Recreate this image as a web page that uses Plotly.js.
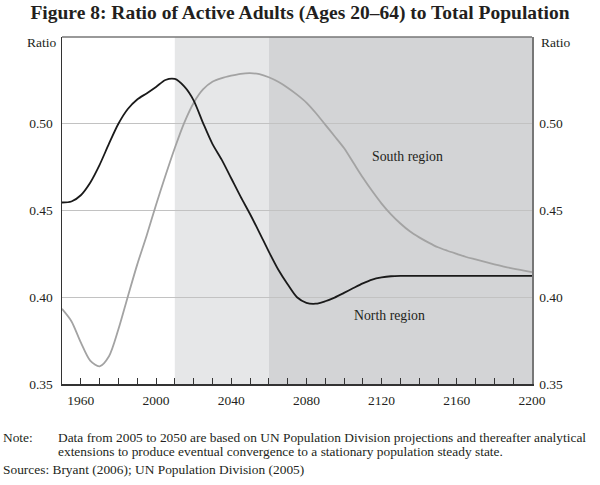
<!DOCTYPE html>
<html>
<head>
<meta charset="utf-8">
<script src="https://cdn.plot.ly/plotly-3.0.1.min.js"></script>
<style>html,body{margin:0;padding:0;background:#fff;}#chart{width:600px;height:485px;}</style>
</head>
<body>
<div id="chart"></div>
<script>
const northYears = [1950,1955,1960,1965,1970,1975,1980,1985,1990,1995,2000,2005,2010,2015,2020,2025,2030,2035,2040,2045,2050,2055,2060,2065,2070,2075,2080,2085,2090,2095,2100,2105,2110,2115,2120,2125,2130,2140,2150,2160,2170,2180,2190,2200];
const northRatio = [0.4546,0.4552,0.4588,0.4660,0.4763,0.4885,0.5000,0.5085,0.5140,0.5175,0.5212,0.5252,0.5258,0.5215,0.5135,0.5005,0.4884,0.4792,0.4686,0.4580,0.4480,0.4373,0.4263,0.4160,0.4075,0.4000,0.3968,0.3963,0.3977,0.3998,0.4025,0.4053,0.4080,0.4102,0.4114,0.4121,0.4123,0.4123,0.4123,0.4123,0.4123,0.4123,0.4123,0.4123];
const southYears = [1950,1955,1960,1965,1970,1975,1980,1985,1990,1995,2000,2005,2010,2015,2020,2025,2030,2035,2040,2045,2050,2055,2060,2065,2070,2075,2080,2085,2090,2095,2100,2105,2110,2115,2120,2125,2130,2135,2140,2145,2150,2155,2160,2165,2170,2175,2180,2185,2190,2195,2200];
const southRatio = [0.3933,0.3862,0.3740,0.3635,0.3602,0.3660,0.3815,0.4003,0.4188,0.4355,0.4532,0.4700,0.4860,0.5005,0.5120,0.5198,0.5242,0.5263,0.5277,0.5288,0.5292,0.5286,0.5268,0.5242,0.5208,0.5168,0.5122,0.5062,0.4995,0.4928,0.4860,0.4775,0.4690,0.4612,0.4540,0.4478,0.4425,0.4380,0.4345,0.4315,0.4288,0.4268,0.4250,0.4232,0.4218,0.4204,0.4190,0.4177,0.4165,0.4155,0.4145];
const yTicks = [0.35,0.40,0.45,0.50];
const yTickText = ['0.35','0.40','0.45','0.50'];
const xTicks = [1960,2000,2040,2080,2120,2160,2200];
const shadeLight = [2010,2060];
const shadeDark = [2060,2200];
const labels = {north:'North region', south:'South region'};

const serif = 'Liberation Serif, Times New Roman, serif';
const W = 600, H = 485, L = 62, R = 68, T = 37, B = 101;
const ph = H - T - B;
function py(pix){ return (H - B - pix) / ph; }
function pxx(pix){ return (pix - L) / (W - L - R); }

const traces = [
  {x: southYears, y: southRatio, type:'scatter', mode:'lines', line:{color:'#a3a3a3', width:1.8, shape:'spline', smoothing:0.8}, hoverinfo:'skip', showlegend:false},
  {x: northYears, y: northRatio, type:'scatter', mode:'lines', line:{color:'#1a1a1a', width:1.8, shape:'spline', smoothing:0.8}, hoverinfo:'skip', showlegend:false},
  {x: [1950,2200], y: [0.35,0.35], type:'scatter', mode:'lines', yaxis:'y2', line:{color:'rgba(0,0,0,0)'}, hoverinfo:'skip', showlegend:false}
];

const tickFont = {family:serif, size:13.5, color:'#231f20'};
const noteFont = {family:serif, size:13.4, color:'#231f20'};
const layout = {
  width: W, height: H,
  margin: {l:L, r:R, t:T, b:B},
  paper_bgcolor:'#fff', plot_bgcolor:'#fff',
  font: {family: serif, size: 13.5, color:'#231f20'},
  title: {text:'<b>Figure 8: Ratio of Active Adults (Ages 20–64) to Total Population</b>', font:{family:serif, size:19.5, color:'#231f20'}, x:0.5, xanchor:'center', y:1-12/H, yanchor:'middle'},
  xaxis: {range:[1950,2200], tickvals:xTicks, ticktext:xTicks.map(String), ticks:'inside', ticklen:6, tickcolor:'#333', tickwidth:1,
    minor:{dtick:10, tick0:1950, ticks:'inside', ticklen:6, tickcolor:'#333', tickwidth:1, showgrid:false},
    ticklabelstandoff:3, showgrid:false, zeroline:false, showline:true, linecolor:'#333', linewidth:1.5, mirror:false, fixedrange:true,
    tickfont:tickFont},
  yaxis: {range:[0.35,0.55], tickvals:yTicks, ticktext:yTickText, ticks:'', showgrid:true, gridcolor:'#c2c2c2', gridwidth:1,
    ticklabelstandoff:5, zeroline:false, showline:true, linecolor:'#333', linewidth:1.5, fixedrange:true, tickfont:tickFont},
  yaxis2: {range:[0.35,0.55], tickvals:yTicks, ticktext:yTickText, ticks:'', overlaying:'y', side:'right', showgrid:false,
    ticklabelstandoff:3, zeroline:false, showline:true, linecolor:'#777', linewidth:1.5, fixedrange:true, tickfont:tickFont},
  shapes: [
    {type:'rect', xref:'x', yref:'paper', x0:shadeLight[0], x1:shadeLight[1], y0:0, y1:1, fillcolor:'#e6e7e8', line:{width:0}, layer:'below'},
    {type:'rect', xref:'x', yref:'paper', x0:shadeDark[0], x1:shadeDark[1], y0:0, y1:1, fillcolor:'#d3d4d6', line:{width:0}, layer:'below'},
    {type:'line', xref:'paper', yref:'paper', x0:0, x1:1, y0:1, y1:1, line:{color:'#777', width:1.5}, layer:'above'}
  ],
  annotations: [
    {text:'Ratio', xref:'paper', yref:'paper', x:pxx(58), y:py(43), xanchor:'right', yanchor:'middle', showarrow:false, font:tickFont},
    {text:'Ratio', xref:'paper', yref:'paper', x:pxx(539), y:py(42), xanchor:'left', yanchor:'middle', showarrow:false, font:tickFont},
    {text:labels.south, xref:'x', yref:'y', x:2134, y:0.35+(384-157)*0.05/86.7, xanchor:'center', yanchor:'middle', showarrow:false, font:{family:serif, size:13.8}},
    {text:labels.north, xref:'x', yref:'y', x:2124, y:0.35+(384-316)*0.05/86.7, xanchor:'center', yanchor:'middle', showarrow:false, font:{family:serif, size:13.8}},
    {text:'Note:', xref:'paper', yref:'paper', x:pxx(1), y:py(437), xanchor:'left', yanchor:'middle', showarrow:false, font:noteFont},
    {text:'Data from 2005 to 2050 are based on UN Population Division projections and thereafter analytical', xref:'paper', yref:'paper', x:pxx(56), y:py(437), xanchor:'left', yanchor:'middle', showarrow:false, font:noteFont},
    {text:'extensions to produce eventual convergence to a stationary population steady state.', xref:'paper', yref:'paper', x:pxx(56), y:py(452), xanchor:'left', yanchor:'middle', showarrow:false, font:noteFont},
    {text:'Sources: Bryant (2006); UN Population Division (2005)', xref:'paper', yref:'paper', x:pxx(1), y:py(470), xanchor:'left', yanchor:'middle', showarrow:false, font:noteFont}
  ]
};

Plotly.newPlot('chart', traces, layout, {displayModeBar:false, staticPlot:true});
</script>
</body>
</html>
